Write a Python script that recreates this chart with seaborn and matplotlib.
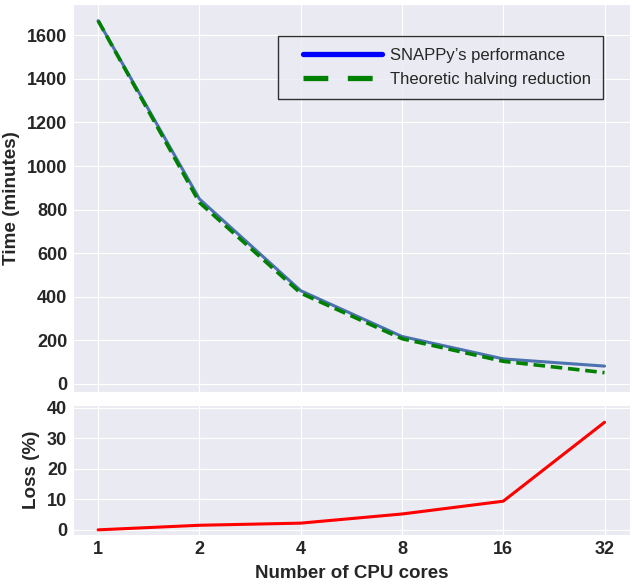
import matplotlib
matplotlib.use("Agg")
import matplotlib.pyplot as plt
from matplotlib.lines import Line2D
from matplotlib.legend_handler import HandlerLine2D
from matplotlib.ticker import FixedLocator, FixedFormatter, NullFormatter, NullLocator
import seaborn as sns
import pandas as pd

cores = [1, 2, 4, 8, 16, 32]
snappy_minutes = [1667, 849, 428, 218, 115, 82]
theoretic_minutes = [1667, 833, 417, 208, 104, 52]
loss_percent = [0, 1.5, 2.2, 5.2, 9.4, 35.3]
time_ticks = [0, 200, 400, 600, 800, 1000, 1200, 1400, 1600]
loss_ticks = [0, 10, 20, 30, 40]

sns.set_style("darkgrid")
plt.rcParams["font.family"] = ["Liberation Sans", "DejaVu Sans"]

df = pd.DataFrame({"cores": cores, "snappy": snappy_minutes,
                   "theory": theoretic_minutes, "loss": loss_percent})

fig = plt.figure(figsize=(6.33, 5.86), dpi=100)
ax1 = fig.add_axes([0.115, 0.331, 0.880, 0.662])
ax2 = fig.add_axes([0.115, 0.087, 0.880, 0.222])

sns.lineplot(data=df, x="cores", y="snappy", ax=ax1, color="#4c72b0", lw=2.2)
sns.lineplot(data=df, x="cores", y="theory", ax=ax1, color="green", lw=2.6,
             linestyle=(0, (3.2, 1.6)))
sns.lineplot(data=df, x="cores", y="loss", ax=ax2, color="red", lw=2.2)

for ax in (ax1, ax2):
    ax.set_xscale("log", base=2)
    ax.xaxis.set_major_locator(FixedLocator(cores))
    ax.xaxis.set_minor_locator(NullLocator())
    ax.set_xlim(2 ** -0.25, 2 ** 5.25)

ax1.xaxis.set_major_formatter(NullFormatter())
ax2.xaxis.set_major_formatter(FixedFormatter([str(c) for c in cores]))

ax1.set_ylim(-37, 1743)
ax1.set_yticks(time_ticks)
ax2.set_ylim(-1.7, 41)
ax2.set_yticks(loss_ticks)

ax1.set_xlabel("")
ax1.set_ylabel("Time (minutes)", fontsize=13.6, fontweight="bold", labelpad=5)
ax2.set_ylabel("Loss (%)", fontsize=13.6, fontweight="bold", labelpad=5)
ax2.set_xlabel("Number of CPU cores", fontsize=13.5, fontweight="bold", labelpad=5)
for ax in (ax1, ax2):
    ax.tick_params(axis="both", labelsize=13, length=0, pad=4)
    for lab in ax.get_xticklabels() + ax.get_yticklabels():
        lab.set_fontweight("bold")


class ShiftedHandler(HandlerLine2D):
    """Legend line that starts a little to the right inside its handle box."""
    def __init__(self, shift_pts, **kw):
        super().__init__(**kw)
        self.shift_pts = shift_pts

    def get_xdata(self, legend, xdescent, ydescent, width, height, fontsize):
        start = -xdescent + self.shift_pts
        end = -xdescent + width
        return [start, end], [start, end]


handles = [Line2D([], [], color="blue", lw=3.8),
           Line2D([], [], color="green", lw=3.8, linestyle=(0, (4.7, 3.7)))]
shift = 9.6  # points
leg = ax1.legend(handles, ["SNAPPy\u2019s performance", "Theoretic halving reduction"],
                 loc="upper right", bbox_to_anchor=(0.9515, 0.9175), fontsize=12,
                 frameon=True, fancybox=False, handlelength=5.55, handletextpad=0.5,
                 borderpad=0.7, labelspacing=0.55, borderaxespad=0,
                 handler_map={h: ShiftedHandler(shift) for h in handles})
leg.get_frame().set_edgecolor("black")
leg.get_frame().set_facecolor("#eaeaf2")
leg.get_frame().set_linewidth(1.0)

fig.savefig("out.png", dpi=100)
